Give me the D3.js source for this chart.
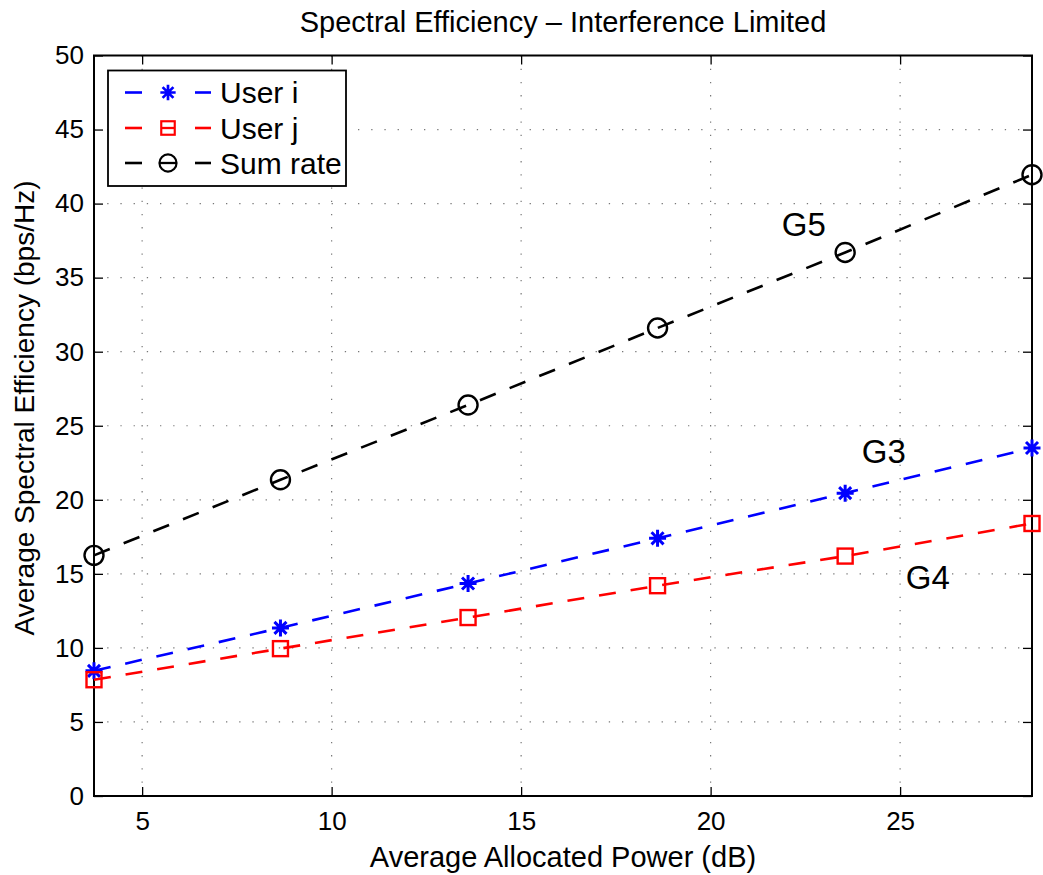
<!DOCTYPE html>
<html>
<head>
<meta charset="utf-8">
<script src="https://cdn.jsdelivr.net/npm/d3@7"></script>
<style>
  html, body { margin: 0; padding: 0; background: #fff; }
  text { font-family: "Liberation Sans", Arial, Helvetica, sans-serif; fill: #000; }
</style>
</head>
<body>
<svg id="chart" width="1043" height="875"></svg>
<script>
// ---- data ----
const powerDb = [3.73, 8.65, 13.6, 18.6, 23.55, 28.48];
const userI   = [8.45, 11.35, 14.35, 17.4, 20.45, 23.5];
const userJ   = [7.85, 9.95, 12.05, 14.2, 16.2, 18.4];
const sumRate = [16.25, 21.35, 26.4, 31.6, 36.7, 41.95];
const xTicks = [5, 10, 15, 20, 25];
const yTicks = [0, 5, 10, 15, 20, 25, 30, 35, 40, 45, 50];
const seriesNames = ["User i", "User j", "Sum rate"];
const annotations = [
  { label: "G5", x: 21.88, y: 37.8 },
  { label: "G3", x: 23.99, y: 22.5 },
  { label: "G4", x: 25.15, y: 14.0 }
];

const svg = d3.select("#chart");
const W = 1043, H = 875;
const m = { left: 94, right: W - 1032, top: 55.5, bottom: H - 796 };

const x = d3.scaleLinear().domain([3.73, 28.48]).range([m.left, W - m.right]);
const y = d3.scaleLinear().domain([0, 50]).range([H - m.bottom, m.top]);

const g = svg.append("g");

// grid
g.append("g").selectAll("line").data(xTicks).join("line")
  .attr("x1", d => x(d)).attr("x2", d => x(d))
  .attr("y1", y(0)).attr("y2", y(50))
  .attr("stroke", "#777").attr("stroke-width", 1.2).attr("stroke-dasharray", "1.3,11.9");
g.append("g").selectAll("line").data(yTicks.filter(d => d > 0 && d < 50)).join("line")
  .attr("x1", x.range()[0]).attr("x2", x.range()[1])
  .attr("y1", d => y(d)).attr("y2", d => y(d))
  .attr("stroke", "#777").attr("stroke-width", 1.2).attr("stroke-dasharray", "1.3,11.9");

// axes (MATLAB-style boxed with inward ticks)
const tickLen = 9;
const fontTick = 26;
const xb = d3.axisBottom(x).tickValues(xTicks).tickSizeInner(-tickLen).tickSizeOuter(0).tickPadding(16);
const xt = d3.axisTop(x).tickValues(xTicks).tickSizeInner(-tickLen).tickSizeOuter(0).tickFormat("");
const yl = d3.axisLeft(y).tickValues(yTicks).tickSizeInner(-tickLen).tickSizeOuter(0).tickPadding(10);
const yr = d3.axisRight(y).tickValues(yTicks).tickSizeInner(-tickLen).tickSizeOuter(0).tickFormat("");

function style(sel) {
  sel.select(".domain").remove();
  sel.selectAll(".tick line").attr("stroke", "#000").attr("stroke-width", 1.3);
  sel.selectAll(".tick text").style("font-size", fontTick + "px").attr("fill", "#000");
}
g.append("g").attr("transform", `translate(0,${y(0)})`).call(xb).call(style)
  .selectAll(".tick text").attr("dy", "0.71em");
g.append("g").attr("transform", `translate(0,${y(50)})`).call(xt).call(style);
g.append("g").attr("transform", `translate(${x.range()[0]},0)`).call(yl).call(style);
g.append("g").attr("transform", `translate(${x.range()[1]},0)`).call(yr).call(style);

// box
g.append("rect").attr("x", x.range()[0]).attr("y", y(50))
  .attr("width", x.range()[1] - x.range()[0]).attr("height", y(0) - y(50))
  .attr("fill", "none").attr("stroke", "#000").attr("stroke-width", 2);

// markers
function asteriskPath(s) {
  let p = "";
  for (let k = 0; k < 4; k++) {
    const a = k * Math.PI / 4;
    const dx = Math.cos(a) * s, dy = Math.sin(a) * s;
    p += `M${-dx},${-dy}L${dx},${dy}`;
  }
  return p;
}
function drawMarker(sel, type, color) {
  if (type === "star") {
    sel.append("path").attr("d", asteriskPath(8.5)).attr("stroke", color).attr("stroke-width", 3).attr("fill", "none");
  } else if (type === "square") {
    sel.append("rect").attr("x", -7.5).attr("y", -7.5).attr("width", 15).attr("height", 15)
      .attr("fill", "none").attr("stroke", color).attr("stroke-width", 2.4);
  } else {
    sel.append("circle").attr("r", 9.5).attr("fill", "none").attr("stroke", color).attr("stroke-width", 2.4);
  }
}

const series = [
  { name: seriesNames[0], values: userI, color: "#0000ff", marker: "star" },
  { name: seriesNames[1], values: userJ, color: "#ff0000", marker: "square" },
  { name: seriesNames[2], values: sumRate, color: "#000000", marker: "circle" }
];
const line = d3.line().x((d, i) => x(powerDb[i])).y(d => y(d));

series.forEach(s => {
  g.append("path").datum(s.values).attr("d", line)
    .attr("fill", "none").attr("stroke", s.color).attr("stroke-width", 2.6)
    .attr("stroke-dasharray", "17,15");
  s.values.forEach((v, i) => {
    const mg = g.append("g").attr("transform", `translate(${x(powerDb[i])},${y(v)})`);
    drawMarker(mg, s.marker, s.color);
  });
});

// annotations
g.append("g").selectAll("text").data(annotations).join("text")
  .attr("x", d => x(d.x)).attr("y", d => y(d.y))
  .style("font-size", "33px").text(d => d.label);

// legend
const lg = g.append("g");
lg.append("rect").attr("x", 108).attr("y", 70.5).attr("width", 238).attr("height", 115.5)
  .attr("fill", "#fff").attr("stroke", "#000").attr("stroke-width", 1.8);
const rowsY = [92.5, 128, 163];
series.forEach((s, i) => {
  const ry = rowsY[i];
  lg.append("line").attr("x1", 125).attr("x2", 142).attr("y1", ry).attr("y2", ry)
    .attr("stroke", s.color).attr("stroke-width", 2.6);
  lg.append("line").attr("x1", 195).attr("x2", 211).attr("y1", ry).attr("y2", ry)
    .attr("stroke", s.color).attr("stroke-width", 2.6);
  const mg = lg.append("g").attr("transform", `translate(168,${ry})`);
  if (s.marker === "circle") {
    mg.append("line").attr("x1", -8).attr("x2", 8).attr("stroke", s.color).attr("stroke-width", 2.3);
  }
  if (s.marker === "square") {
    mg.append("line").attr("x1", -7).attr("x2", 7).attr("stroke", s.color).attr("stroke-width", 2.3);
  }
  const mk = mg.append("g").attr("transform", "scale(0.9)");
  drawMarker(mk, s.marker, s.color);
  lg.append("text").attr("x", 220).attr("y", ry).attr("dy", "0.36em")
    .style("font-size", "30px").text(s.name);
});

// title and axis labels
svg.append("text").attr("x", 563).attr("y", 32).attr("text-anchor", "middle")
  .style("font-size", "29px").text("Spectral Efficiency \u2013 Interference Limited");
svg.append("text").attr("x", 563).attr("y", 867).attr("text-anchor", "middle")
  .style("font-size", "29px").text("Average Allocated Power (dB)");
svg.append("text").attr("transform", `translate(34,408) rotate(-90)`)
  .attr("text-anchor", "middle").style("font-size", "28px")
  .text("Average Spectral Efficiency (bps/Hz)");
</script>
</body>
</html>
